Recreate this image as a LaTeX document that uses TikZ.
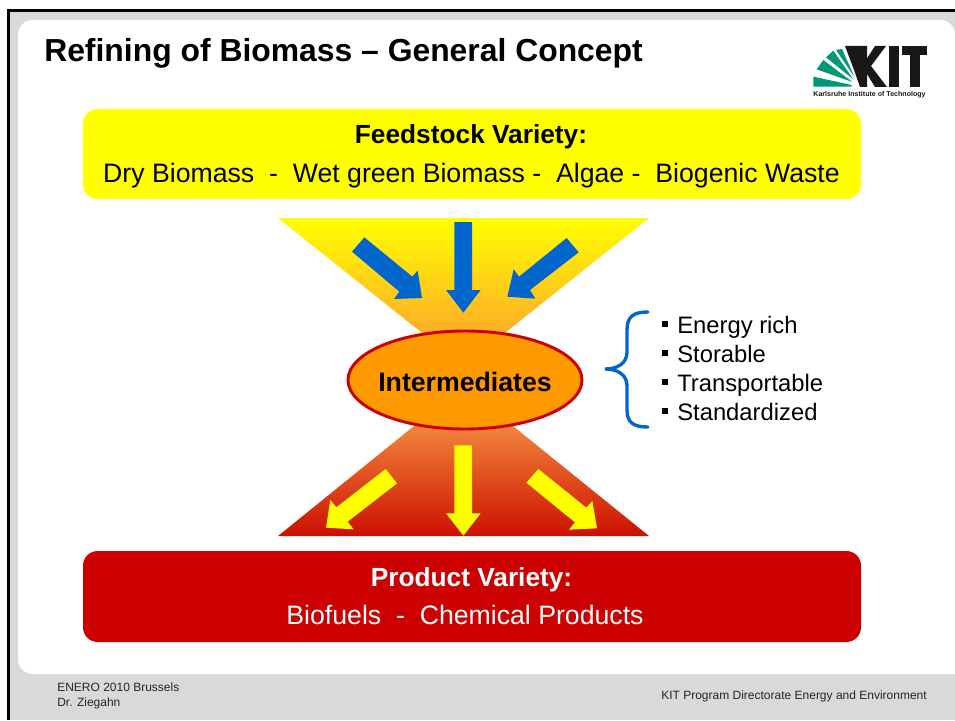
\documentclass[tikz,border=0pt]{standalone}
\usepackage{fontspec}
\setmainfont{Liberation Sans}
\begin{document}
\begin{tikzpicture}[x=0.75pt,y=-0.75pt,
  bluearrow/.style={fill=arrowblue,draw=none},
  yelarrow/.style={fill=purey,draw=none},
  titletext/.style={anchor=base west,inner sep=0pt,font=\bfseries\fontsize{23.9}{28}\selectfont,text=black},
  boxhead/.style={anchor=base,inner sep=0pt,font=\bfseries\fontsize{19.7}{22}\selectfont},
  boxline/.style={anchor=base,inner sep=0pt,font=\fontsize{20}{24}\selectfont},
  bullettext/.style={anchor=base west,inner sep=0pt,font=\fontsize{17.85}{20}\selectfont,text=black},
  bulletmark/.style={fill=black,draw=none,minimum size=4.5pt,inner sep=0pt},
  foot/.style={inner sep=0pt,font=\fontsize{9}{10.5}\selectfont,text=black!85}]
\definecolor{purey}{HTML}{FFFF00}
\definecolor{arrowblue}{HTML}{0066CC}
\definecolor{darkred}{HTML}{CC0000}
\definecolor{panelgray}{HTML}{D9D9D9}
\definecolor{ellfill}{HTML}{FF9900}
\definecolor{kitgreen}{HTML}{009879}
\definecolor{kitblack}{HTML}{1A1718}
\definecolor{funnelmid}{RGB}{255,150,50}
\definecolor{funnelup}{RGB}{255,175,80}
\definecolor{funnelred}{RGB}{204,16,0}
\useasboundingbox (0,0) rectangle (955,720);
\fill[white] (0,0) rectangle (955,720);
\fill[panelgray] (8.7,10.7) rectangle (955,720);
\draw[black,line width=1.9pt] (955,10.7) -- (8.7,10.7) -- (8.7,720);
\fill[white] (955,674) [rounded corners=11pt] -- (18,674) -- (18,20) -- (955,20) -- (955,300) [sharp corners] -- cycle;
% title
\node[titletext] (title) at (44,62) {Refining of Biomass – General Concept};
% logo
\begin{scope}[shift={(780,0)},x=0.25pt,y=-0.25pt]
\fill[kitgreen] (100,260) -- (100,230) -- (215,255) -- (215,260) -- cycle;
\fill[kitgreen] (110,208) -- (130,180) -- (217,246) -- cycle;
\fill[kitgreen] (138,172) -- (160,152) -- (220,238) -- cycle;
\fill[kitgreen] (168,150) -- (186,147) -- (224,232) -- cycle;
\end{scope}
\fill[kitblack] (845,46) -- (867,46) -- (867,87) -- (860,87) -- (854,70) -- cycle;
\fill[kitblack] (862,66) -- (875,46) -- (886,46) -- (871,66) -- (887,87) -- (875,87) -- cycle;
\fill[kitblack] (889,46) rectangle (899,87);
\fill[kitblack] (902,46) rectangle (927,55);
\fill[kitblack] (909.5,46) rectangle (919.5,87);
\node[inner sep=0pt,anchor=center,font=\bfseries\fontsize{5.3}{5}\selectfont,text=kitblack] (kitsub) at (869.5,94.5) {Karlsruhe Institute of Technology};
% boxes
\fill[purey,rounded corners=11pt] (83,109) rectangle (861,199);
\node[boxhead,text=black] (fhead) at (471,144) {Feedstock Variety:};
\node[boxline,text=black] (fline) at (471.5,183) {Dry Biomass\ \ -\ \ Wet green Biomass -\ \ Algae -\ \ Biogenic Waste};
\fill[darkred,rounded corners=11pt] (83,551) rectangle (861,642);
\node[boxhead,text=white] (phead) at (471.5,586.5) {Product Variety:};
\node[boxline,text=white] (pline) at (465,624.5) {Biofuels\ \ -\ \ Chemical Products};
% funnels
\shade[top color=purey,bottom color=funnelmid] (278,218) -- (649,218) -- (463.5,366) -- cycle;
\shade[top color=funnelup,bottom color=funnelred] (278,536) -- (649,536) -- (463.5,386) -- cycle;
% block arrows
\begin{scope}[shift={(270,210)},x=0.25pt,y=-0.25pt]
\fill[bluearrow] (553,36) -- (606,36) -- (606,240) -- (632,240) -- (580,308) -- (528,240) -- (553,240) -- cycle;
\fill[bluearrow] (283,82) -- (427,200) -- (443,182) -- (456,264) -- (372,267) -- (388,245) -- (246,125) -- cycle;
\fill[bluearrow] (890,84) -- (926,127) -- (780,240) -- (796,266) -- (712,260) -- (731,178) -- (747,200) -- cycle;
\fill[yelarrow] (553,706) -- (606,706) -- (606,910) -- (632,910) -- (580,977) -- (528,910) -- (553,910) -- cycle;
\fill[yelarrow] (347,777) -- (381,820) -- (233,935) -- (251,958) -- (168,953) -- (181,870) -- (199,892) -- cycle;
\fill[yelarrow] (805,777) -- (769,818) -- (915,937) -- (897,959) -- (981,955) -- (967,873) -- (949,893) -- cycle;
\end{scope}
% ellipse
\fill[ellfill,draw=darkred,line width=2.2pt] (465,380) ellipse [x radius=117,y radius=49];
\node[inner sep=0pt,font=\bfseries\fontsize{20}{24}\selectfont,text=black] (inter) at (465,382) {Intermediates};
% brace
\draw[arrowblue,line width=2.5pt,line cap=round] (648,312) .. controls (634,312) and (627,316) .. (627,330) -- (627,352) .. controls (627,363) and (618,369) .. (605,369) .. controls (618,369) and (627,375) .. (627,386) -- (627,410) .. controls (627,423) and (634,427) .. (648,427);
% bullets
\node[bulletmark] (b1) at (664.5,324) {};
\node[bulletmark] (b2) at (664.5,353) {};
\node[bulletmark] (b3) at (664.5,382) {};
\node[bulletmark] (b4) at (664.5,411) {};
\node[bullettext] (t1) at (677,333) {Energy rich};
\node[bullettext] (t2) at (677,362) {Storable};
\node[bullettext] (t3) at (677,391) {Transportable};
\node[bullettext] (t4) at (677,420) {Standardized};
% footer
\node[foot,anchor=base west] (f1) at (57,691) {ENERO 2010 Brussels};
\node[foot,anchor=base west] (f2) at (57,706) {Dr. Ziegahn};
\node[foot,anchor=base east] (f3) at (927,699) {KIT Program Directorate Energy and Environment};
\end{tikzpicture}
\end{document}
